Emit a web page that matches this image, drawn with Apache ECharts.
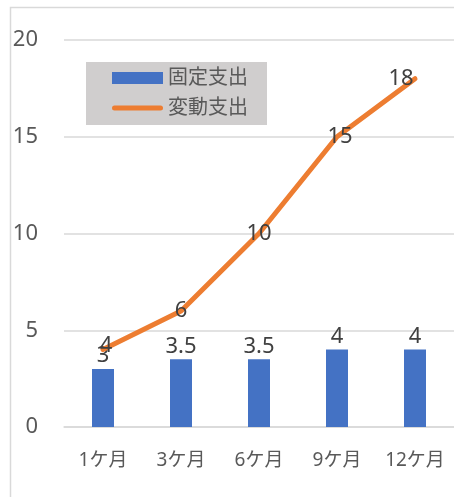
<!DOCTYPE html>
<html><head><meta charset="utf-8">
<script src="https://cdn.jsdelivr.net/npm/echarts@6/dist/echarts.min.js"></script>
<style>html,body{margin:0;padding:0;background:#fff}#c{width:454px;height:497px}</style>
</head><body><div id="c"></div>
<script>
const categories = ['1ケ月', '3ケ月', '6ケ月', '9ケ月', '12ケ月'];
const fixedCost = [3, 3.5, 3.5, 4, 4];
const variableCost = [4, 6, 10, 15, 18];
const seriesNames = ['固定支出', '変動支出'];
const yTicks = { min: 0, max: 20, interval: 5 };

const FONT = '"Noto Sans", "Noto Sans CJK JP", sans-serif';
const chart = echarts.init(document.getElementById('c'), null, { renderer: 'canvas' });

const labelOffsets = { 0: [3, -4], 3: [3, 0], 4: [-14, 0] };
const lineData = variableCost.map((v, i) => {
  const item = { value: v };
  if (labelOffsets[i]) item.label = { offset: labelOffsets[i] };
  return item;
});

const lineIcon = 'path://M2.5,0 L48.5,0 A2.5,2.5 0 0 1 48.5,5 L2.5,5 A2.5,2.5 0 0 1 2.5,0 Z';

chart.setOption({
  animation: false,
  backgroundColor: '#ffffff',
  textStyle: { fontFamily: FONT },
  graphic: [{
    type: 'rect', left: 8, top: 5,
    shape: { x: 0, y: 0, width: 520, height: 560 },
    style: { fill: 'none', stroke: '#d9d9d9', lineWidth: 1.5 },
    silent: true, z: -1
  }],
  grid: { left: 64, right: 0, top: 40, bottom: 70, containLabel: false },
  legend: {
    orient: 'vertical', left: 86, top: 62,
    backgroundColor: '#d0cece', borderRadius: 0,
    padding: [6, 19, 7, 26], itemGap: 10,
    itemWidth: 51, itemHeight: 12, symbolKeepAspect: true,
    textStyle: { fontFamily: FONT, fontSize: 20, color: '#595959' },
    data: [
      { name: seriesNames[0], icon: 'rect' },
      { name: seriesNames[1], icon: lineIcon }
    ]
  },
  xAxis: {
    type: 'category', data: categories,
    axisLine: { lineStyle: { color: '#d9d9d9', width: 1.5 } },
    axisTick: { show: false },
    axisLabel: { fontFamily: FONT, fontSize: 19, color: '#595959', margin: 24 }
  },
  yAxis: {
    type: 'value', min: yTicks.min, max: yTicks.max, interval: yTicks.interval,
    axisLine: { show: false }, axisTick: { show: false },
    splitLine: { lineStyle: { color: '#d9d9d9', width: 1.5 } },
    axisLabel: { fontFamily: FONT, fontSize: 22, color: '#595959', margin: 26 }
  },
  series: [
    {
      name: seriesNames[0], type: 'bar', data: fixedCost, barWidth: 22,
      itemStyle: { color: '#4472c4' },
      label: { show: true, position: 'top', distance: 2, fontFamily: FONT, fontSize: 22, color: '#404040' }
    },
    {
      name: seriesNames[1], type: 'line', data: lineData,
      symbol: 'circle', symbolSize: 0.1, showSymbol: true, smooth: false,
      lineStyle: { color: '#ed7d31', width: 5, cap: 'round', join: 'round' },
      itemStyle: { color: '#ed7d31' },
      label: { show: true, position: 'inside', fontFamily: FONT, fontSize: 22, color: '#404040' },
      z: 3
    }
  ]
});
</script></body></html>
